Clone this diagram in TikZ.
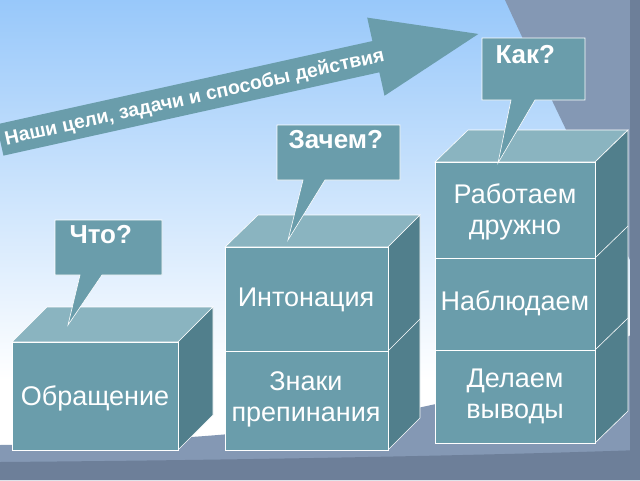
\documentclass[tikz,border=0pt]{standalone}
\usepackage{fontspec}
\setmainfont{Liberation Sans}
\begin{document}
\begin{tikzpicture}[x=1pt,y=-1pt,
  front/.style={fill=frontc,draw=white,line width=0.6pt},
  topf/.style={fill=topc,draw=white,line width=0.6pt},
  side/.style={fill=sidec,draw=white,line width=0.6pt},
  lbl/.style={text=white,font=\fontsize{27}{31}\selectfont,align=center},
  bub/.style={fill=frontc,draw=white,line width=0.6pt},
  blbl/.style={text=white,font=\bfseries\fontsize{26}{30}\selectfont}]
\definecolor{frontc}{HTML}{6A9DAB}
\definecolor{topc}{HTML}{8AB4C0}
\definecolor{sidec}{HTML}{517F8C}
\definecolor{skyc}{HTML}{98C8FA}
\definecolor{grayc}{HTML}{8498B4}
\definecolor{darkg}{HTML}{6D7F99}
\useasboundingbox (0,0) rectangle (640,480);
\shade[top color=skyc,bottom color=white] (0,0) rectangle (640,380);
\fill[white] (0,380) rectangle (640,480);
\fill[grayc] (505,0) .. controls (560,120) and (615,230) .. (640,280) -- (640,0) -- cycle;
\fill[grayc] (0,445) .. controls (250,440) and (480,420) .. (640,330) -- (640,480) -- (0,480) -- cycle;
\fill[darkg] (0,462) .. controls (250,460) and (500,455) .. (640,450) -- (640,480) -- (0,480) -- cycle;
\fill[darkg] (630,0) rectangle (640,480);
% arrow
\begin{scope}[shift={(0,140)},rotate=12.5]
\fill[fill=frontc] (0,-16) -- (385,-16) -- (385,-40) -- (490,0) -- (385,40) -- (385,16) -- (0,16) -- cycle;
\node[transform shape,text=white,font=\bfseries\fontsize{19.5}{22}\selectfont,anchor=west,inner sep=0pt] (arrowtxt) at (5,1) {Наши цели, задачи и способы действия};
\end{scope}
% cube 1
\path[topf] (12,342) -- (47,307) -- (213,307) -- (178,342) -- cycle;
\path[side] (178,342) -- (213,307) -- (213,415) -- (178,450) -- cycle;
\path[front] (12,342) rectangle (178,450);
\node[lbl] (c1) at (95,398) {Обращение};
% column 2
\path[topf] (225,247) -- (258,215) -- (420,215) -- (388,247) -- cycle;
\path[side] (388,247) -- (420,215) -- (420,418) -- (388,450) -- cycle;
\draw[white,line width=0.6pt] (388,351) -- (420,319);
\path[front] (225,247) rectangle (388,351);
\path[front] (225,351) rectangle (388,450);
\node[lbl] (c2a) at (306,300) {Интонация};
\node[lbl] (c2b) at (306,399) {Знаки\\препинания};
% column 3
\path[topf] (435,162) -- (468,130) -- (628,130) -- (595,162) -- cycle;
\path[side] (595,162) -- (628,130) -- (628,411) -- (595,443) -- cycle;
\draw[white,line width=0.6pt] (595,258) -- (628,226) (595,350) -- (628,318);
\path[front] (435,162) rectangle (595,258);
\path[front] (435,258) rectangle (595,350);
\path[front] (435,350) rectangle (595,443);
\node[lbl] (c3a) at (515,212) {Работаем\\дружно};
\node[lbl] (c3b) at (515,303) {Наблюдаем};
\node[lbl] (c3c) at (515,396) {Делаем\\выводы};
% bubbles
\path[bub] (55,220) -- (162,220) -- (162,275) -- (102,275) -- (68,325) -- (80,275) -- (55,275) -- cycle;
\node[blbl,anchor=north west] (q1) at (66,222) {Что?};
\path[bub] (277,125) -- (400,125) -- (400,180) -- (325,180) -- (288,240) -- (303,180) -- (277,180) -- cycle;
\node[blbl,anchor=north west] (q2) at (285,127) {Зачем?};
\path[bub] (482,38) -- (585,38) -- (585,100) -- (535,100) -- (498,163) -- (511,100) -- (482,100) -- cycle;
\node[blbl,anchor=north west] (q3) at (492,42) {Как?};
\end{tikzpicture}
\end{document}
